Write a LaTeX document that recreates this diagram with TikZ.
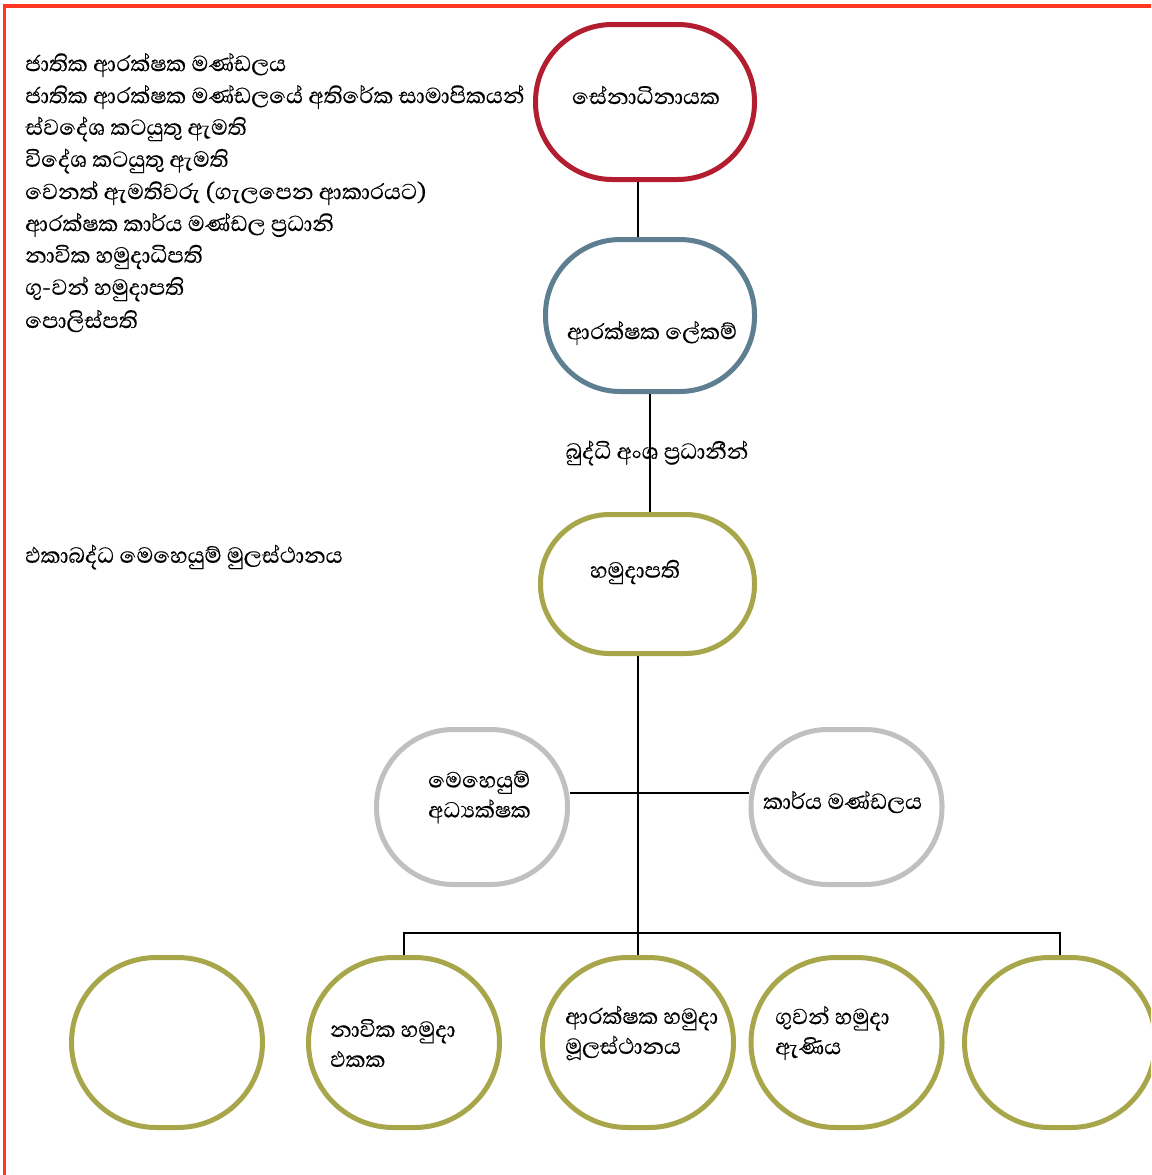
\documentclass[tikz,border=0pt]{standalone}
\usepackage{fontspec}
\newfontfamily\sinfont[Script=Sinhala,FakeBold=0.4]{Abhaya Libre}
\definecolor{pagered}{RGB}{255,55,35}
\definecolor{topred}{RGB}{178,30,48}
\definecolor{slate}{RGB}{94,126,145}
\definecolor{olive}{RGB}{168,166,74}
\definecolor{lgray}{RGB}{192,192,192}
\tikzset{
  orgbox/.style={draw, line width=5pt, rectangle, fill=white, inner sep=0pt},
  txt/.style={font=\sinfont\fontsize{28}{30}\selectfont, inner sep=0pt, align=left, text=black},
  conn/.style={draw=black, line width=1.6pt},
  pageborder/.style={draw=pagered, line width=3.5pt}
}
\begin{document}
\begin{tikzpicture}[x=1pt,y=-1pt]
\useasboundingbox (0,0) rectangle (1151,1175);
\clip (0,0) rectangle (1151,1175);
\fill[white] (0,0) rectangle (1151,1175);
\draw[pageborder] (4.5,1175) -- (4.5,6) -- (1151,6);

% coordinates for connector routing
\coordinate (spine) at (638,0);
\coordinate (xline) at (0,793);
\coordinate (bus) at (638,933);

% shapes
\node[orgbox, draw=topred, minimum width=219pt, minimum height=155pt, rounded corners=77pt] (sen) at (645,102) {};
\node[orgbox, draw=slate, minimum width=209pt, minimum height=152pt, rounded corners=75pt] (lek) at (650,315.5) {};
\node[orgbox, draw=olive, minimum width=214pt, minimum height=139pt, rounded corners=69pt] (hq) at (647.5,584) {};
\node[orgbox, draw=lgray, minimum width=191pt, minimum height=155pt, rounded corners=77pt] (ops) at (472,807) {};
\node[orgbox, draw=lgray, minimum width=191pt, minimum height=155pt, rounded corners=77pt] (staff) at (846.5,807) {};
\node[orgbox, draw=olive, minimum width=191pt, minimum height=170pt, rounded corners=85pt] (b1) at (167,1042.5) {};
\node[orgbox, draw=olive, minimum width=191pt, minimum height=170pt, rounded corners=85pt] (b2) at (404,1042.5) {};
\node[orgbox, draw=olive, minimum width=191pt, minimum height=170pt, rounded corners=85pt] (b3) at (638,1042.5) {};
\node[orgbox, draw=olive, minimum width=191pt, minimum height=170pt, rounded corners=85pt] (b4) at (846.5,1042.5) {};
\node[orgbox, draw=olive, minimum width=191pt, minimum height=170pt, rounded corners=85pt] (b5) at (1060,1042.5) {};

% connectors
\draw[conn] (sen.south -| spine) -- (lek.north -| spine);
\draw[conn] (lek.south) -- (lek.south |- hq.north);
\draw[conn] (hq.south -| spine) -- (b3.north -| spine);
\draw[conn] (ops.east |- xline) -- (staff.west |- xline);
\draw[conn] (b2.north) -- (b2.north |- bus) -- (b5.north |- bus) -- (b5.north);

% texts in shapes
\node[txt] (tsen) at (646,95) {සේනාධිනායක};
\node[txt] (tlek) at (652,333) {ආරක්ෂක ලේකම්};
\node[txt] (thq) at (635,572) {හමුදාපති};
\node[txt, anchor=west] (tops) at (428,797) {මෙහෙයුම්\\අධ්‍යක්ෂක};
\node[txt, anchor=west] (tstaff) at (763,802) {කාර්ය මණ්ඩලය};
\node[txt, anchor=west] (tb2) at (330,1043) {නාවික හමුදා\\ඵකක};
\node[txt, anchor=west] (tb3) at (565,1033) {ආරක්ෂක හමුදා\\මූලස්ථානය};
\node[txt, anchor=west] (tb4) at (775,1033) {ගුවන් හමුදා\\ඇණිය};

% connector label
\node[txt] (tbud) at (657,453) {බුද්ධි අංශ ප්‍රධානීන්};

% free texts
\node[txt, anchor=west] (l1) at (25,65) {ජාතික ආරක්ෂක මණ්ඩලය};
\node[txt, anchor=west] (l2) at (25,97) {ජාතික ආරක්ෂක මණ්ඩලයේ අතිරේක සාමාපිකයන්};
\node[txt, anchor=west] (l3) at (25,129) {ස්වදේශ කටයුතු ඇමති};
\node[txt, anchor=west] (l4) at (25,161) {විදේශ කටයුතු ඇමති};
\node[txt, anchor=west] (l5) at (25,193) {වෙනත් ඇමතිවරු (ගැලපෙන ආකාරයට)};
\node[txt, anchor=west] (l6) at (25,225) {ආරක්ෂක කාර්ය මණ්ඩල ප්‍රධානි};
\node[txt, anchor=west] (l7) at (25,257) {නාවික හමුදාධිපති};
\node[txt, anchor=west] (l8) at (25,289) {ගු-වන් හමුදාපති};
\node[txt, anchor=west] (l9) at (25,321) {පොලිස්පති};
\node[txt, anchor=west] (jhq) at (25,557) {ඵකාබද්ධ මෙහෙයුම් මුලස්ථානය};
\end{tikzpicture}
\end{document}
